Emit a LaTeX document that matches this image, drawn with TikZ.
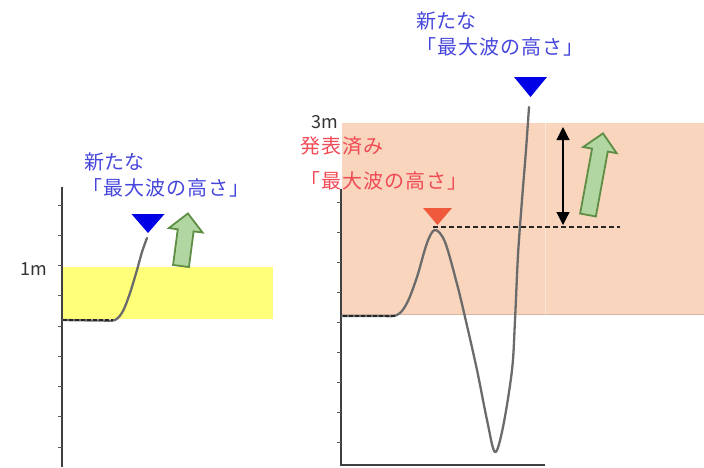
\documentclass[tikz,border=0pt]{standalone}
\usepackage{fontspec}
\setmainfont{Noto Sans CJK JP}
\newfontfamily\jpwide{Noto Sans CJK JP}[LetterSpace=5]
\usepackage{tikz}
\usetikzlibrary{arrows.meta,positioning}
\definecolor{cnewtxt}{HTML}{4646DC}
\definecolor{coldtxt}{HTML}{F04B55}
\definecolor{cnewmark}{HTML}{0000E6}
\definecolor{coldmark}{HTML}{F05A3C}
\definecolor{cband}{HTML}{FFFF7A}
\definecolor{corange}{HTML}{F8D5BC}
\definecolor{cgfill}{HTML}{B2D6A2}
\definecolor{cgdraw}{HTML}{5E8E44}
\newcommand{\downmark}[5]{\fill[#5] (#1-#3/2,#2) -- (#1+#3/2,#2) -- (#1,#2+#4) -- cycle;}
\newcommand{\risearrow}[4]{\draw[risearr, shift={(#1,#2)}, rotate=#3] (-8,0) -- (-8,-#4+17) -- (-17,-#4+17) -- (0,-#4) -- (17,-#4+17) -- (8,-#4+17) -- (8,0) -- cycle;}
\tikzset{
  axisln/.style={draw=black!75, line width=2.2pt},
  tickln/.style={draw=black!65, line width=1pt},
  wave/.style={draw=black!58, line width=2.3pt, line join=round, line cap=round},
  waveflat/.style={draw=black!85, line width=1.3pt, dash pattern=on 4pt off 2pt},
  risearr/.style={fill=cgfill, draw=cgdraw, line width=1.8pt, line join=miter},
  levelln/.style={draw=black!85, line width=1.1pt, dash pattern=on 5pt off 3pt},
  gaparr/.style={{Triangle[length=13pt,width=13pt]}-{Triangle[length=13pt,width=13pt]}, line width=1.1pt},
  txt/.style={inner sep=0pt, anchor=base west},
  newtxt/.style={txt, text=cnewtxt, font=\fontsize{20}{22}\selectfont},
  newbrk/.style={txt, text=cnewtxt, font={\jpwide\fontsize{20}{22}\selectfont}},
  oldtxt/.style={txt, text=coldtxt, font={\jpwide\fontsize{20}{22}\selectfont}},
  axlbl/.style={inner sep=0pt, anchor=base east, text=black!80, font=\fontsize{18}{20}\selectfont},
}
\begin{document}
\begin{tikzpicture}[x=1pt,y=-1pt]
\useasboundingbox (0,0) rectangle (704,467);
\fill[cband] (63,267) rectangle (273,319);
\fill[corange] (342,123) rectangle (704,314.5);
\draw[corange!85!black, line width=0.6pt] (342,314.5) -- (704,314.5);
\draw[white, opacity=0.45, line width=0.8pt] (545,123) -- (545,314);
\draw[axisln] (62,187) -- (62,467);
\foreach \k in {0,...,8} \draw[tickln] (58,205+30.25*\k) -- (62,205+30.25*\k);
\draw[axisln] (341,189) -- (341,465) -- (545,465);
\foreach \k in {0,...,8} \draw[tickln] (337,202+30*\k) -- (341,202+30*\k);
\draw[wave] plot[smooth, tension=0.5] coordinates {(63,320) (100,320.5) (115,320) (123,311) (130,293) (137,270) (142,252) (147,238)};
\draw[waveflat] (63,320) -- (113,320);
\draw[wave] plot[smooth, tension=0.55] coordinates {(342,316) (380,316) (397,315) (407,303) (417,277) (427,243) (435,230) (445,242) (457,284) (465,317) (477,370) (487,420) (495,452) (503,427) (512,370) (515,320) (518,255) (522,200) (526,150) (529,107)};
\draw[waveflat] (343,316) -- (395,316);
\coordinate (oldPeak) at (433,227);
\coordinate (levelEnd) at (620,227);
\draw[levelln] (oldPeak) -- (levelEnd);
\coordinate (gapTop) at (563,127);
\coordinate (gapBot) at (563,225);
\draw[gaparr] (gapTop) -- (gapBot);
\downmark{148}{214}{33}{19}{cnewmark}
\downmark{530.5}{77}{33}{20}{cnewmark}
\downmark{437.5}{208}{29}{17}{coldmark}
\risearrow{181}{266}{-7.5}{53}
\risearrow{588}{215}{-10.4}{83}
\node[axlbl] (oneM) at (47,275) {1m};
\node[axlbl] (threeM) at (338,128) {3m};
\node[newtxt] (newLa) at (84,169.5) {新たな};
\node[newbrk] (newLb) at (82,195.5) {「最大波の高さ」};
\node[newtxt] (newRa) at (416,28.5) {新たな};
\node[newbrk] (newRb) at (416,54.5) {「最大波の高さ」};
\node[oldtxt] (oldRa) at (300,153.5) {発表済み};
\node[oldtxt] (oldRb) at (300,188) {「最大波の高さ」};
\end{tikzpicture}
\end{document}
